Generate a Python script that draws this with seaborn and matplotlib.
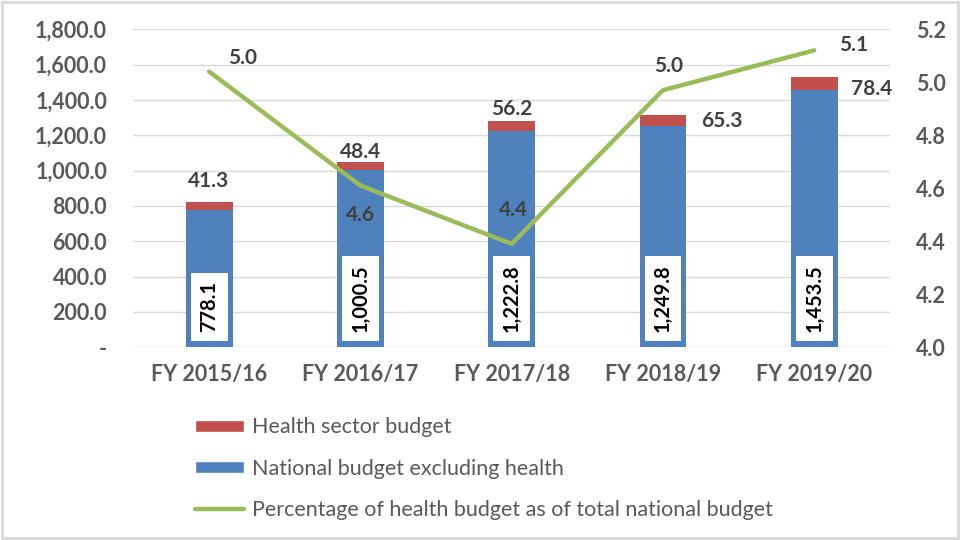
import matplotlib
matplotlib.use("Agg")
import matplotlib.pyplot as plt
import seaborn as sns
import numpy as np
import pandas as pd
from matplotlib.patches import Rectangle
from matplotlib.lines import Line2D
from matplotlib.ticker import FuncFormatter, MultipleLocator

categories = ["FY 2015/16", "FY 2016/17", "FY 2017/18", "FY 2018/19", "FY 2019/20"]
national_excl_health = [778.1, 1000.5, 1222.8, 1249.8, 1453.5]
health_budget = [41.3, 48.4, 56.2, 65.3, 78.4]
health_pct = [5.04, 4.61, 4.39, 4.97, 5.12]

sns.set_theme(style="white")
plt.rcParams['font.family'] = ['Lato', 'DejaVu Sans']

RED = "#C0504D"
BLUE = "#4F81BD"
GREEN = "#9BBB59"
TXT = "#404040"
TICK = "#595959"

df = pd.DataFrame({"cat": categories,
                   "base": national_excl_health,
                   "health": health_budget})
df["total"] = df["base"] + df["health"]

fig = plt.figure(figsize=(9.6, 5.4), dpi=100)
ax = fig.add_axes([0.139, 0.357, 0.788, 0.589])

sns.barplot(data=df, x="cat", y="total", color=RED, width=0.31, ax=ax,
            saturation=1, edgecolor=RED, linewidth=0)
sns.barplot(data=df, x="cat", y="base", color=BLUE, width=0.31, ax=ax,
            saturation=1, edgecolor=BLUE, linewidth=0)

ax.set_ylim(0, 1800)
ax.set_xlim(-0.5, 4.5)
ax.yaxis.set_major_locator(MultipleLocator(200))
ax.yaxis.set_major_formatter(FuncFormatter(lambda v, p: "-" if v == 0 else f"{v:,.1f}"))
ax.grid(axis="y", color="#D9D9D9", linewidth=1)
ax.set_axisbelow(True)
for s in ax.spines.values():
    s.set_visible(False)
ax.set_xlabel("")
ax.set_ylabel("")
ax.tick_params(axis="both", length=0, labelsize=15.5, labelcolor=TICK)
ax.tick_params(axis="y", pad=19)
ax.tick_params(axis="x", pad=12)
for lab in ax.get_xticklabels() + ax.get_yticklabels():
    lab.set_fontweight("bold")

# white value boxes inside blue bars (box sized to the text)
for i, v in enumerate(national_excl_health):
    ax.text(i, 85, f"{v:,.1f}", rotation=90, ha="center", va="bottom",
            fontsize=14.5, fontweight="bold", color="black", zorder=4,
            bbox=dict(boxstyle="square,pad=0.42", facecolor="white", edgecolor="none"))

# health labels: (dx in categories, dy in data units)
h_offsets = [(0.0, 120), (0.0, 55), (0.0, 70), (0.39, -35), (0.38, -68)]
for i, (h, tot) in enumerate(zip(health_budget, df["total"])):
    dx, dy = h_offsets[i]
    ax.text(i + dx, tot + dy, f"{h:.1f}", ha="center", va="center", fontsize=15,
            fontweight="bold", color=TXT, zorder=5)

ax2 = ax.twinx()
sns.lineplot(x=np.arange(len(categories)), y=health_pct, ax=ax2, color=GREEN,
             linewidth=3.2, sort=False)
ax2.set_ylim(4.0, 5.2)
ax2.yaxis.set_major_locator(MultipleLocator(0.2))
ax2.yaxis.set_major_formatter(FuncFormatter(lambda v, p: f"{v:.1f}"))
ax2.tick_params(axis="y", length=0, labelsize=15.5, labelcolor=TICK, pad=19)
for lab in ax2.get_yticklabels():
    lab.set_fontweight("bold")
for s in ax2.spines.values():
    s.set_visible(False)
ax2.set_xlim(-0.5, 4.5)

pct_offsets = [(0.22, 0.053), (0.0, -0.113), (0.01, 0.128), (0.04, 0.09), (0.26, 0.02)]
for i, p in enumerate(health_pct):
    dx, dy = pct_offsets[i]
    ax2.text(i + dx, p + dy, f"{p:.1f}", ha="center", va="center",
             fontsize=15, fontweight="bold", color=TXT)

handles = [Rectangle((0, 0), 1, 1, facecolor=RED),
           Rectangle((0, 0), 1, 1, facecolor=BLUE),
           Line2D([0], [0], color=GREEN, linewidth=3.2)]
labels = ["Health sector budget", "National budget excluding health",
          "Percentage of health budget as of total national budget"]
leg = fig.legend(handles, labels, loc="upper left", bbox_to_anchor=(0.203, 0.227),
                 frameon=False, fontsize=15.5, handlelength=2.3, handleheight=0.5,
                 labelspacing=0.98, handletextpad=0.35, borderaxespad=0, borderpad=0)
for t in leg.get_texts():
    t.set_color(TICK)

fig.patches.append(Rectangle((0.002, 0.003), 0.996, 0.994, transform=fig.transFigure,
                             fill=False, edgecolor="#D9D9D9", linewidth=2))

fig.savefig("out.png", dpi=100)
